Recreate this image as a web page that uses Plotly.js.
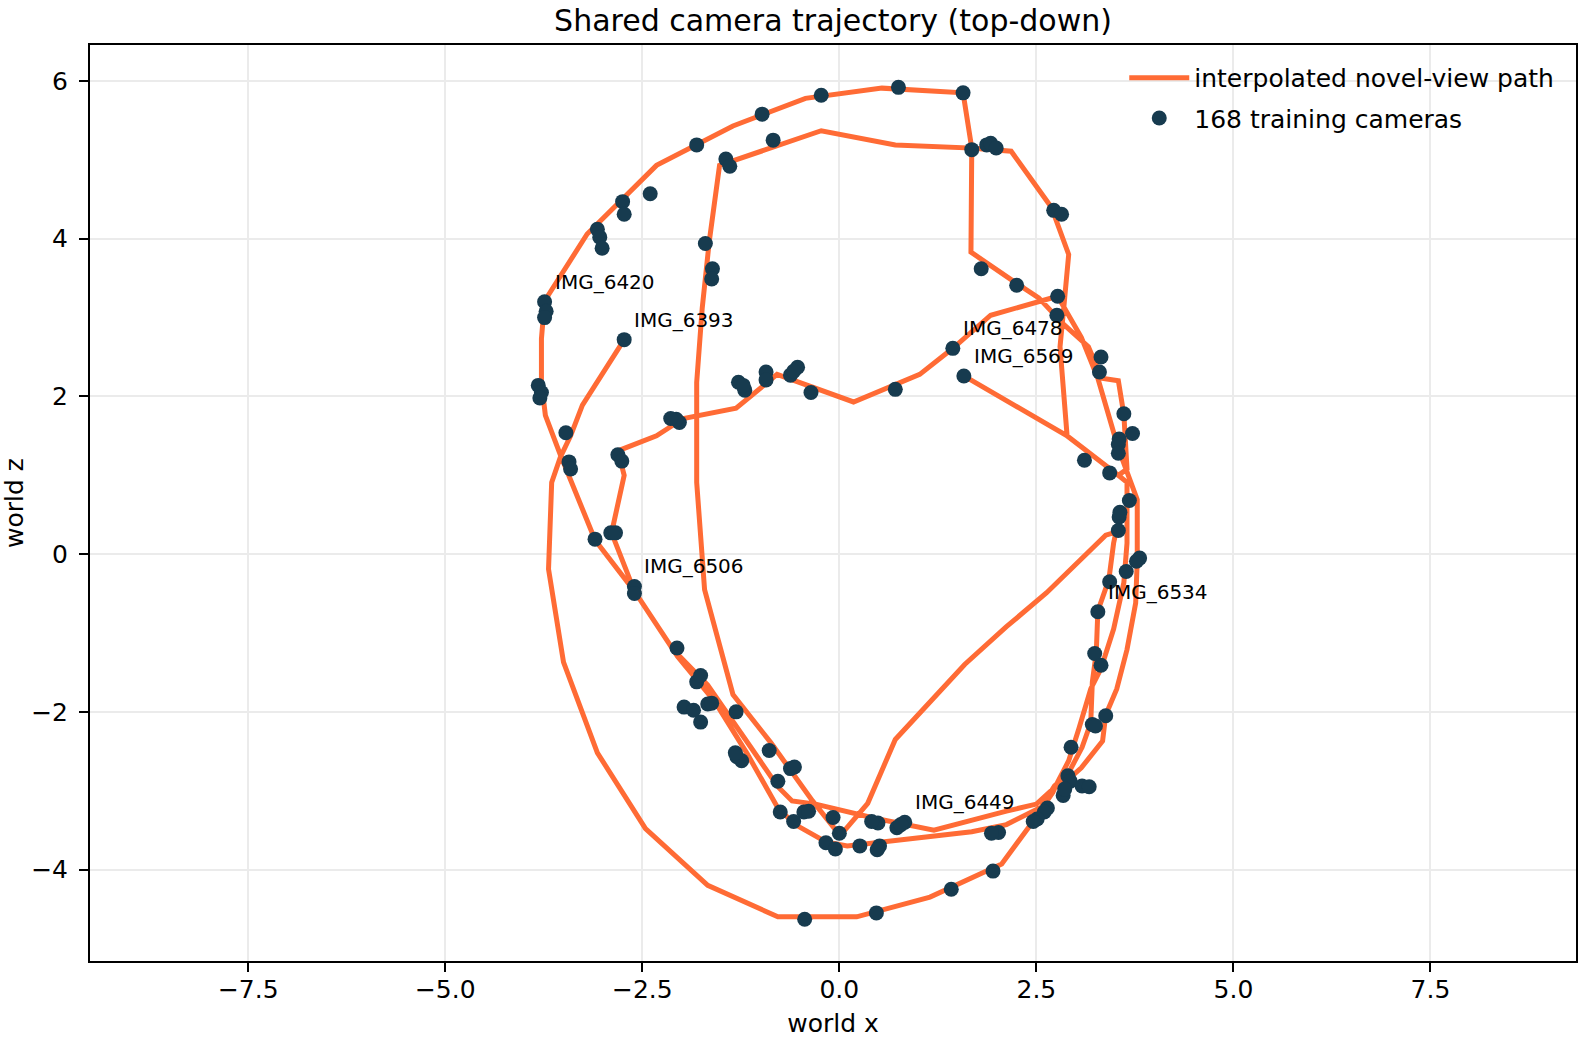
<!DOCTYPE html>
<html>
<head>
<meta charset="utf-8">
<script src="https://cdn.plot.ly/plotly-3.0.1.min.js"></script>
<style>
  html, body { margin: 0; padding: 0; background: #ffffff; }
  #chart { width: 1584px; height: 1044px; }
</style>
</head>
<body>
<div id="chart"></div>
<script>
// ---- interpolated novel-view path (world x, world z), in path order ----
const pathX = [
  -2.73,-3.26,-3.41,-3.54,-3.65,-3.69,-3.50,-3.07,-2.46,-1.67,-0.78,0.22,1.15,2.06,2.45,2.71,
  2.77,2.91,3.04,3.19,3.32,3.48,3.61,3.65,3.65,3.54,2.89,2.80,2.85,2.91,2.69,2.18,1.68,1.57,0.54,-0.43,-1.35,-2.32,-3.20,-3.74,-3.78,-3.78,-3.73,-3.54,-3.10,-2.60,
  -2.11,-1.67,-1.13,-0.78,-0.60,-0.30,0.45,1.20,2.12,2.50,2.71,2.88,3.07,3.34,3.38,3.52,3.65,3.76,3.78,3.78,3.54,3.45,3.28,3.07,2.86,2.77,1.92,1.44,1.02,0.18,-0.79,-1.31,-1.98,-2.32,-2.81,-2.73,-2.89,-2.60,
  -2.05,-1.58,-1.17,-0.78,-0.56,-0.17,0.10,0.54,1.68,2.12,2.56,2.73,2.90,3.08,3.19,3.21,3.26,3.28,3.42,3.48,3.51,3.38,2.63,2.12,1.59,0.71,0.36,0.01,-0.34,-0.87,-1.35,-1.71,-1.81,-1.81,-1.74,-1.65,-1.52,-0.23,0.71,1.68,1.67,2.24,2.53,2.85,3.16,3.33,3.54,3.61,3.65,3.54,2.89,1.58
];
const pathZ = [
  2.72,1.89,1.50,1.23,0.91,-0.19,-1.37,-2.52,-3.48,-4.20,-4.60,-4.60,-4.35,-3.93,-3.40,-3.02,
  -2.89,-2.62,-2.21,-1.71,-1.45,-0.95,-0.36,0.14,0.91,1.00,1.50,2.63,3.15,3.80,4.40,5.11,5.15,5.85,5.91,5.78,5.43,4.93,4.06,3.21,2.73,2.18,1.76,1.26,0.18,-0.47,
  -1.21,-1.66,-2.44,-2.95,-3.13,-3.17,-3.35,-3.50,-3.26,-3.17,-2.98,-2.88,-2.71,-2.37,-2.04,-1.71,-1.21,-0.62,-0.08,0.69,1.34,1.64,2.23,2.75,3.12,3.27,3.03,2.61,2.28,1.93,2.28,1.85,1.72,1.50,1.31,1.00,0.27,-0.47,
  -1.30,-1.87,-2.53,-3.22,-3.43,-3.65,-3.70,-3.65,-3.52,-3.43,-3.21,-2.94,-2.79,-2.45,-2.14,-1.62,-1.25,-0.72,-0.32,0.14,0.28,0.24,-0.49,-0.92,-1.40,-2.35,-3.16,-3.57,-3.13,-2.39,-1.78,-0.45,0.91,2.18,3.12,3.97,4.93,5.37,5.19,5.15,3.83,3.44,3.25,2.91,2.63,2.23,2.20,1.77,1.08,1.00,1.50,2.26
];

// ---- training camera positions (world x, world z) ----
const camX = [
  1.57,0.75,-0.23,-0.98,-1.81,-2.40,-2.75,-2.73,-3.07,-3.04,-3.01,-3.74,-3.72,-3.74,-3.82,-3.78,-3.80,-3.47,-3.43,-3.41,
  -2.81,-2.76,-2.03,-2.07,-2.14,-1.28,-1.20,-1.22,-0.93,-0.93,-0.62,-0.53,-0.58,-0.36,0.71,1.44,1.58,-0.84,-1.44,-1.39,
  -1.70,-1.61,-1.62,1.68,1.87,1.92,1.99,2.72,2.82,1.80,2.25,2.77,2.76,-2.73,
  3.32,3.30,3.61,3.72,3.55,3.54,3.54,3.11,3.43,3.68,3.55,3.56,3.54,3.81,3.77,3.64,3.43,3.28,3.24,3.32,
  3.38,3.21,3.25,2.94,2.90,2.93,3.08,3.17,2.84,2.86,2.64,2.60,2.51,2.46,2.02,1.93,1.95,1.42,0.47,-0.44,
  0.73,0.83,0.78,0.49,0.41,-0.08,-0.45,-0.39,0.00,-0.17,-0.05,0.26,0.51,0.48,-0.75,-0.58,-0.78,-0.62,-0.57,-0.89,
  -1.30,-1.24,-1.32,-1.31,-1.67,-1.62,-1.97,-1.85,-1.76,-1.81,-1.76,-2.06,-2.60,-2.60,-3.10,-2.90,-2.84
];
const camZ = [
  5.85,5.92,5.82,5.58,5.19,4.57,4.47,4.31,4.12,4.02,3.88,3.20,3.08,3.00,2.14,2.05,1.98,1.54,1.17,1.08,
  1.26,1.18,1.67,1.71,1.72,2.18,2.08,2.14,2.31,2.21,2.27,2.37,2.32,2.05,2.09,2.61,2.26,5.25,5.01,4.92,
  3.94,3.62,3.49,5.13,5.19,5.21,5.15,4.36,4.31,3.62,3.41,3.27,3.03,2.72,
  2.50,2.31,1.78,1.53,1.46,1.39,1.28,1.19,1.03,0.68,0.47,0.53,0.30,-0.05,-0.09,-0.22,-0.35,-0.73,-1.26,-1.41,
  -2.05,-2.16,-2.18,-2.45,-2.81,-2.88,-2.94,-2.95,-3.06,-2.98,-3.22,-3.27,-3.36,-3.39,-3.53,-3.54,-4.02,-4.25,-4.55,-4.63,
  -3.47,-3.40,-3.43,-3.41,-3.39,-3.34,-3.27,-3.26,-3.54,-3.66,-3.74,-3.70,-3.70,-3.75,-3.27,-3.39,-2.88,-2.72,-2.70,-2.49,
  -2.57,-2.62,-2.52,-2.00,-1.90,-1.89,-1.94,-1.98,-2.13,-1.62,-1.54,-1.19,-0.41,-0.50,0.19,0.27,0.27
];

// ---- labelled cameras ----
const labelText = ['IMG_6393','IMG_6420','IMG_6449','IMG_6478','IMG_6506','IMG_6534','IMG_6569'];
const labelX = [-2.73,-3.74,0.83,1.44,-2.60,3.28,1.58];
const labelZ = [2.72,3.20,-3.40,2.61,-0.41,-0.73,2.26];

// ---- tick values ----
const xTicks = [-7.5,-5.0,-2.5,0.0,2.5,5.0,7.5];
const yTicks = [-4,-2,0,2,4,6];

const FONT = 'DejaVu Sans, sans-serif';
const ORANGE = '#ff6b35';
const NAVY = '#173b4f';

const traces = [
  {
    x: pathX, y: pathZ, type: 'scatter', mode: 'lines',
    name: 'interpolated novel-view path',
    line: { color: ORANGE, width: 5 },
    legend: 'legend',
    hoverinfo: 'skip'
  },
  {
    x: camX, y: camZ, type: 'scatter', mode: 'markers',
    name: '168 training cameras',
    marker: { color: NAVY, size: 15, line: { width: 0 } },
    legend: 'legend2',
    hoverinfo: 'skip'
  }
];

const annotations = labelText.map((t, i) => ({
  x: labelX[i], y: labelZ[i], xref: 'x', yref: 'y',
  text: t, showarrow: false,
  xanchor: 'left', yanchor: 'middle', xshift: 8, yshift: 20,
  font: { family: FONT, size: 20, color: '#000000' }
}));

const axisCommon = {
  showgrid: true, gridcolor: '#ebebeb', gridwidth: 2,
  zeroline: false,
  showline: true, mirror: true, linecolor: '#000000', linewidth: 2,
  ticks: 'outside', ticklen: 9, tickwidth: 2, tickcolor: '#000000',
  tickfont: { family: FONT, size: 25, color: '#000000' }
};

const layout = {
  width: 1584, height: 1044,
  margin: { l: 90, r: 8, t: 45, b: 83, pad: 0 },
  paper_bgcolor: '#ffffff', plot_bgcolor: '#ffffff',
  font: { family: FONT, color: '#000000' },
  title: {
    text: 'Shared camera trajectory (top-down)',
    font: { family: FONT, size: 30, color: '#000000' },
    x: 0.5, xref: 'paper', xanchor: 'center',
    y: 1, yref: 'paper', yanchor: 'bottom', pad: { b: 14 }
  },
  xaxis: Object.assign({}, axisCommon, {
    range: [-9.508, 9.347],
    tickvals: xTicks, tickformat: '.1f',
    ticklabelstandoff: -4,
    title: { text: 'world x', font: { family: FONT, size: 25, color: '#000000' }, standoff: 11 }
  }),
  yaxis: Object.assign({}, axisCommon, {
    range: [-5.160, 6.457],
    tickvals: yTicks, tickformat: 'd',
    ticklabelstandoff: 6,
    title: { text: 'world z', font: { family: FONT, size: 25, color: '#000000' }, standoff: 8 }
  }),
  legend: {
    x: 0.696, y: 0.964, xanchor: 'left', yanchor: 'middle',
    bgcolor: 'rgba(0,0,0,0)', borderwidth: 0, itemwidth: 60,
    font: { family: FONT, size: 25, color: '#000000' }
  },
  legend2: {
    x: 0.696, y: 0.920, xanchor: 'left', yanchor: 'middle',
    bgcolor: 'rgba(0,0,0,0)', borderwidth: 0, itemwidth: 60,
    font: { family: FONT, size: 25, color: '#000000' }
  },
  showlegend: true,
  annotations: annotations
};

Plotly.newPlot('chart', traces, layout, { displayModeBar: false, staticPlot: true });
</script>
</body>
</html>
